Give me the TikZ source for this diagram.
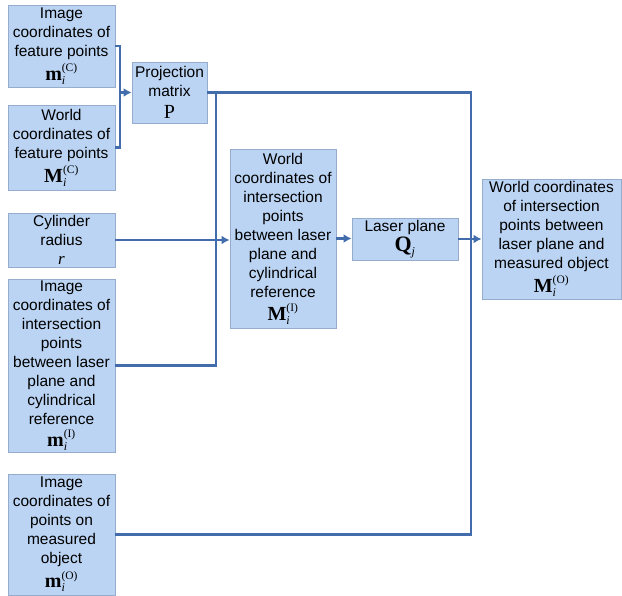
\documentclass[tikz,border=0pt]{standalone}
\usepackage{amsmath}
\usepackage{fontspec}
\setmainfont{Liberation Sans}
\newfontfamily\tnr{Liberation Serif}
\usetikzlibrary{arrows.meta}
\definecolor{boxfill}{RGB}{187,212,243}
\definecolor{boxborder}{RGB}{150,172,204}
\definecolor{linec}{RGB}{66,108,172}
\newcommand{\sy}[3]{$\text{\tnr\bfseries\fontsize{20}{20}\selectfont #1\vphantom{M}}_{\text{\tnr\itshape\fontsize{12}{12}\selectfont #2}}^{\text{\tnr\fontsize{11.5}{11.5}\selectfont(#3)}}$}
\tikzset{
  box/.style={draw=boxborder, fill=boxfill, line width=0.9pt, align=center, inner sep=0pt,
    font=\fontsize{15.5}{19}\selectfont},
  conn/.style={draw=linec, line width=2.8pt},
  arr/.style={conn, -{Latex[length=8pt,width=9pt]}}
}
\begin{document}
\begin{tikzpicture}[x=1pt,y=-1pt]
\useasboundingbox (0,0) rectangle (622,596);
\node[box, minimum width=107pt, minimum height=82pt] (A) at (61.5,46)
  {Image\\coordinates of\\feature points\\[3pt]\sy{m}{i}{C}};
\node[box, minimum width=107pt, minimum height=85pt] (B) at (61.5,147.5)
  {World\\coordinates of\\feature points\\[3pt]\sy{M}{i}{C}};
\node[box, minimum width=75pt, minimum height=61pt] (P) at (169.5,92.5)
  {Projection\\matrix\\[3pt]{\tnr\fontsize{20}{20}\selectfont P}};
\node[box, minimum width=107pt, minimum height=54pt] (R) at (61.5,240)
  {Cylinder\\radius\\{\tnr\itshape\fontsize{17}{17}\selectfont r}};
\node[box, minimum width=107pt, minimum height=173pt] (I) at (61.5,365.5)
  {Image\\coordinates of\\intersection\\points\\between laser\\plane and\\cylindrical\\reference\\[3pt]\sy{m}{i}{I}};
\node[box, minimum width=107pt, minimum height=121pt] (O) at (61.5,534.5)
  {Image\\coordinates of\\points on\\measured\\object\\[3pt]\sy{m}{i}{O}};
\node[box, minimum width=106pt, minimum height=179pt] (W) at (283,238.5)
  {World\\coordinates of\\intersection\\points\\between laser\\plane and\\cylindrical\\reference\\[4pt]\sy{M}{i}{I}};
\node[box, minimum width=106pt, minimum height=42pt] (L) at (405,239)
  {Laser plane\\[1pt]$\text{\tnr\bfseries\fontsize{22}{22}\selectfont Q}_{\text{\tnr\itshape\fontsize{12}{12}\selectfont j}}$};
\node[box, minimum width=139pt, minimum height=120pt] (F) at (551.5,239)
  {World coordinates\\of intersection\\points between\\laser plane and\\measured object\\[3pt]\sy{M}{i}{O}};
\coordinate (br1) at (120,46);
\coordinate (br2) at (120,147.5);
\coordinate (brm) at (120,92.5);
\coordinate (c1) at (471,92.5);
\coordinate (c2) at (471,534.5);
\coordinate (d1) at (216,92.5);
\coordinate (d2) at (216,365.5);
\draw[conn] (A.east) -- (br1) -- (br2) -- (B.east);
\draw[arr] (brm) -- (P.west);
\draw[conn] (P.east) -- (c1) -- (c2) -- (O.east);
\draw[conn] (d1) -- (d2) -- (I.east);
\draw[arr] (R.east) -- (R.east -| W.west);
\draw[arr] (W.east) -- (W.east -| L.west);
\draw[arr] (L.east) -- (L.east -| F.west);
\end{tikzpicture}
\end{document}
